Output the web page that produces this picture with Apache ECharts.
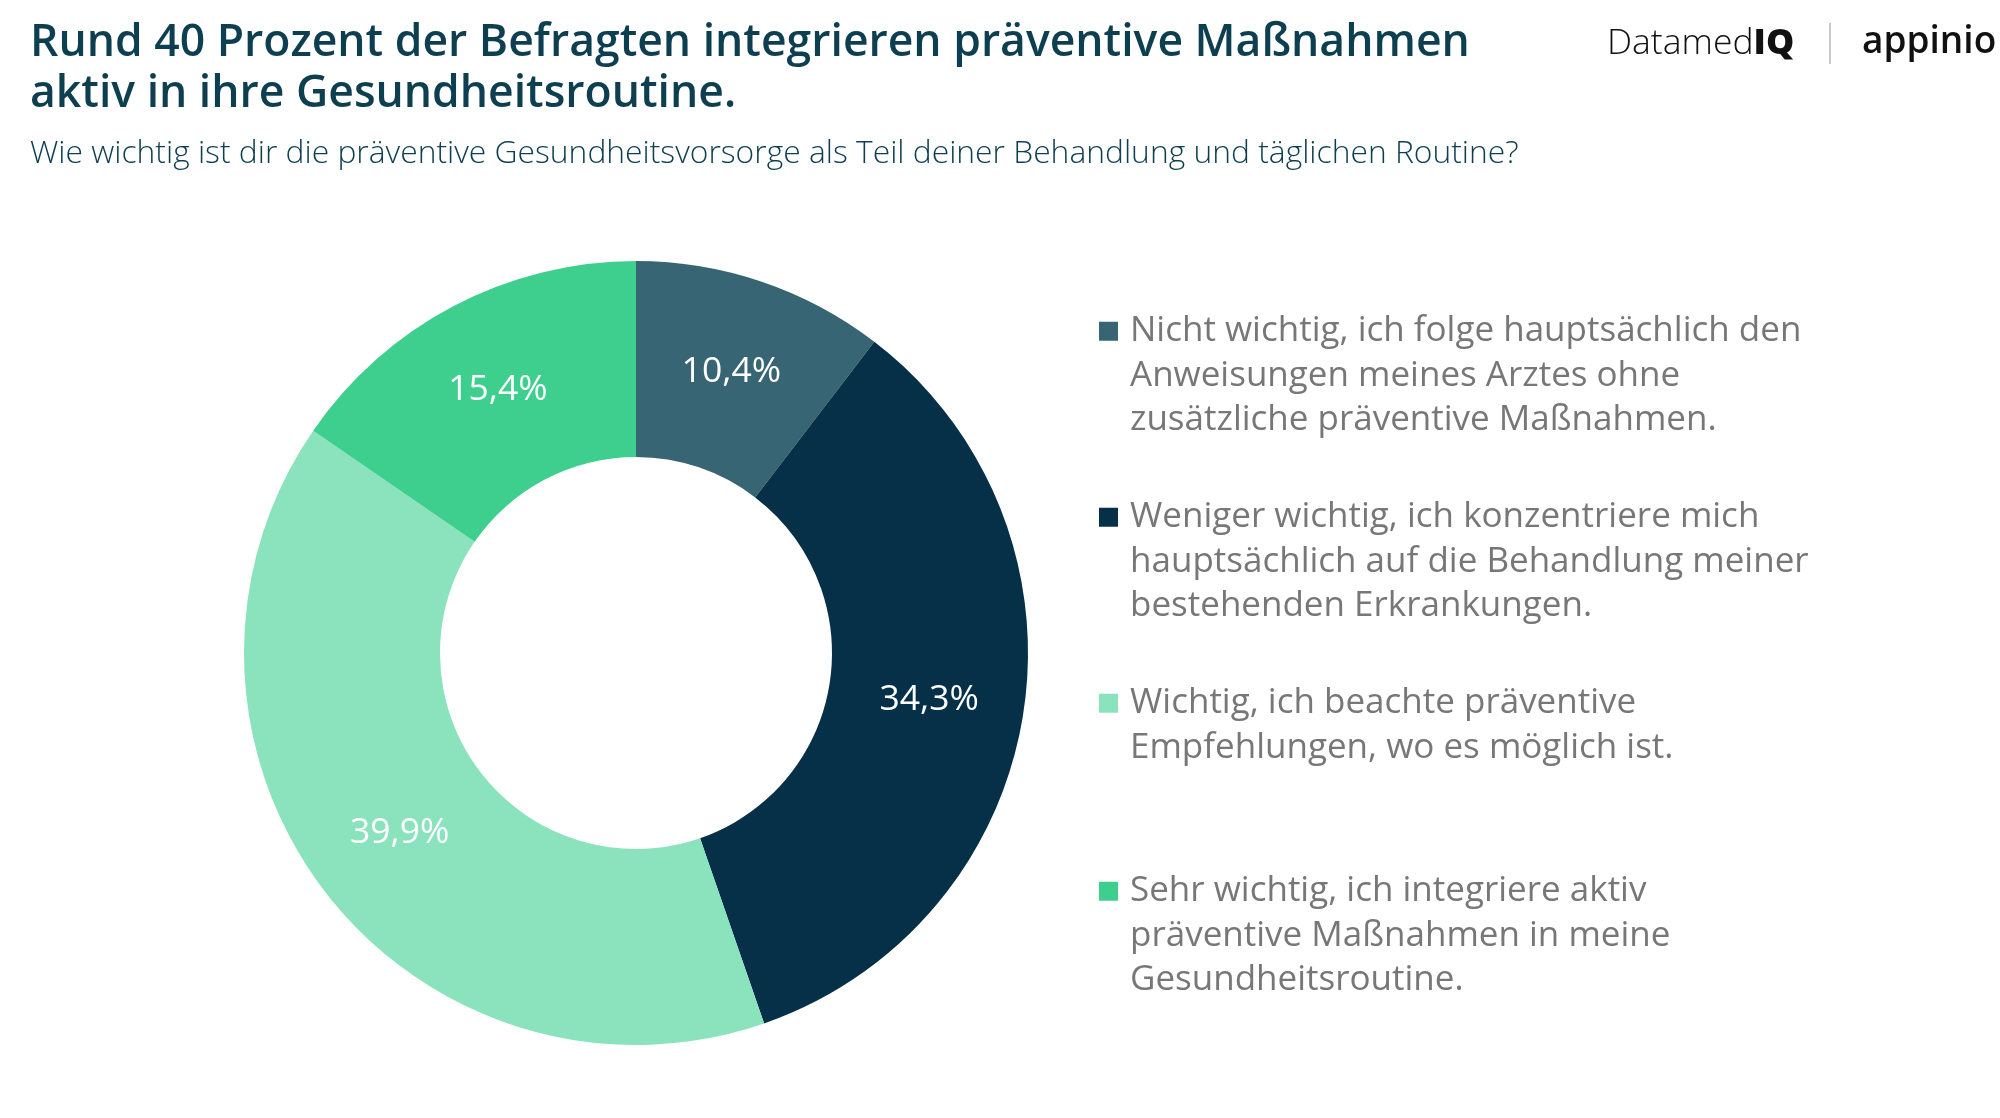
<!DOCTYPE html>
<html><head><meta charset="utf-8">
<script src="https://cdn.jsdelivr.net/npm/echarts@6/dist/echarts.min.js"></script>
<style>html,body{margin:0;padding:0;background:#fff}#c{width:2000px;height:1118px}</style>
</head><body><div id="c"></div>
<script>
const categories = [
  "Nicht wichtig, ich folge hauptsächlich den\nAnweisungen meines Arztes ohne\nzusätzliche präventive Maßnahmen.",
  "Weniger wichtig, ich konzentriere mich\nhauptsächlich auf die Behandlung meiner\nbestehenden Erkrankungen.",
  "Wichtig, ich beachte präventive\nEmpfehlungen, wo es möglich ist.",
  "Sehr wichtig, ich integriere aktiv\npräventive Maßnahmen in meine\nGesundheitsroutine."
];
const values = [10.4, 34.3, 39.9, 15.4];
const colors = ["#376574", "#063047", "#8ae3bd", "#3ecf8e"];

const FONT = "Open Sans";
const LH = 44.5;
const legendTops = [309, 495, 681, 869];

function iconPath(lines) {
  const w = 26, h = lines * LH, s = 19, y0 = LH / 2 - s / 2;
  return "path://M0,0h0.01v0.01h-0.01z M" + w + "," + h + "h-0.01v-0.01h0.01z M0," + y0 + "h" + s + "v" + s + "h-" + s + "z";
}

const legends = categories.map((name, i) => {
  const lines = name.split("\n").length;
  return {
    orient: "vertical", left: 1099, top: legendTops[i], padding: 0,
    data: [{ name: name, icon: iconPath(lines) }],
    itemWidth: 26, itemHeight: lines * LH,
    selectedMode: false,
    textStyle: { fontFamily: FONT, fontSize: 35, fontWeight: 500, color: "#777777", lineHeight: LH }
  };
});

const chart = echarts.init(document.getElementById("c"), null, { renderer: "canvas" });
chart.setOption({
  backgroundColor: "#ffffff",
  animation: false,
  color: colors,
  title: [
    { text: "Rund 40 Prozent der Befragten integrieren präventive Maßnahmen\naktiv in ihre Gesundheitsroutine.",
      left: 30, top: 18, padding: 0,
      textStyle: { fontFamily: FONT, fontSize: 44.5, fontWeight: 600, color: "#0d3f50", lineHeight: 51 } },
    { text: "Wie wichtig ist dir die präventive Gesundheitsvorsorge als Teil deiner Behandlung und täglichen Routine?",
      left: 30, top: 138, padding: 0,
      textStyle: { fontFamily: FONT, fontSize: 31.8, fontWeight: 300, color: "#0d3f50" } }
  ],
  legend: legends,
  graphic: [
    { type: "text", left: 1607, top: 26, style: { text: "Datamed{b|IQ}", rich: { b: { fontFamily: FONT, fontSize: 35.5, fontWeight: 800, fill: "#111" } }, fontFamily: FONT, fontSize: 35.5, fontWeight: 300, fill: "#111" } },
    { type: "rect", left: 1829, top: 23, shape: { width: 2, height: 41 }, style: { fill: "#c8c8c8" } },
    { type: "text", left: 1862, top: 24, style: { text: "appinio", fontFamily: FONT, fontSize: 37, fontWeight: 600, fill: "#111" } }
  ],
  series: [{
    type: "pie",
    center: [636, 653],
    radius: [196, 392],
    startAngle: 90,
    clockwise: true,
    avoidLabelOverlap: false,
    label: {
      show: true, position: "inside",
      formatter: p => p.value.toFixed(1).replace(".", ",") + "%",
      fontFamily: FONT, fontSize: 35.5, fontWeight: 500, color: "#ffffff",
      padding: [6, 0, 0, 0]
    },
    labelLine: { show: false },
    itemStyle: { borderWidth: 0 },
    emphasis: { disabled: true },
    data: categories.map((n, i) => ({ name: n, value: values[i] }))
  }]
});
</script></body></html>
